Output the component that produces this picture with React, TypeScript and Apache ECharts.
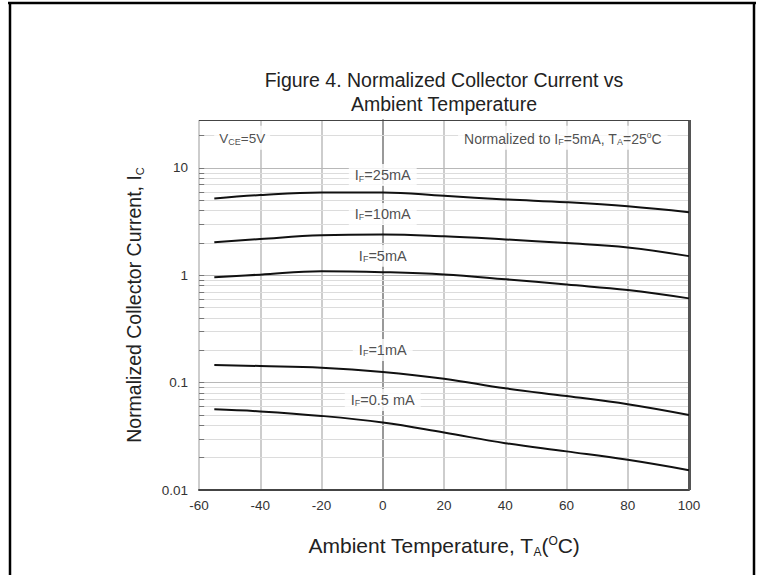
import React, { useEffect, useRef } from 'react';
import * as echarts from 'echarts';

const temps = [-55, -40, -20, 0, 20, 40, 60, 80, 100];
const if25mA = [5.2, 5.6, 5.9, 5.9, 5.5, 5.1, 4.8, 4.4, 3.87];
const if10mA = [2.03, 2.18, 2.36, 2.4, 2.31, 2.16, 2.0, 1.82, 1.51];
const if5mA = [0.96, 1.015, 1.09, 1.07, 1.02, 0.92, 0.82, 0.73, 0.61];
const if1mA = [0.146, 0.143, 0.138, 0.126, 0.109, 0.0886, 0.075, 0.063, 0.05];
const if05mA = [0.0565, 0.054, 0.049, 0.0425, 0.0343, 0.0273, 0.0229, 0.0191, 0.0153];

const curveNames = ['IF=25mA', 'IF=10mA', 'IF=5mA', 'IF=1mA', 'IF=0.5mA'];
const curveValues = [if25mA, if10mA, if5mA, if1mA, if05mA];

const labelTexts = ['I{s|F}=25mA', 'I{s|F}=10mA', 'I{s|F}=5mA', 'I{s|F}=1mA', 'I{s|F}=0.5 mA'];
const labelX = [0, 0, 0, 0, 0];
const labelY = [8.6, 3.73, 1.52, 0.202, 0.069];

const yMin = 0.01;
const yMax = 28;
const decades = [0.01, 0.1, 1, 10];
const minorMultipliers = [2, 3, 4, 5, 6, 7, 8, 9];

const FONT = 'Liberation Sans, Arial, sans-serif';

export default function App() {
  const ref = useRef<HTMLDivElement>(null);
  useEffect(() => {
    if (!ref.current) return;
    const chart = echarts.init(ref.current, null, { renderer: 'svg' });

    const minorVals: number[] = [];
    decades.forEach((d) => {
      minorMultipliers.forEach((m) => {
        const v = +(d * m).toPrecision(6);
        if (v < yMax) minorVals.push(v);
      });
    });

    const gridLines: any[] = [];
    minorVals.forEach((v) =>
      gridLines.push({ yAxis: v, lineStyle: { color: '#dcdcdc', width: 1, type: 'solid' } })
    );
    decades.slice(1).forEach((v) =>
      gridLines.push({ yAxis: v, lineStyle: { color: '#b8b8b8', width: 1.2, type: 'solid' } })
    );
    minorVals.concat(decades.slice(1)).forEach((v) =>
      gridLines.push([
        { coord: [-60, v], lineStyle: { color: '#777', width: 1, type: 'solid' } },
        { coord: [-58.3, v] },
      ])
    );
    gridLines.push([
      { coord: [100, yMin], lineStyle: { color: '#555', width: 3, type: 'solid' } },
      { coord: [100, yMax] },
    ]);
    gridLines.push([
      { coord: [-60, yMax], lineStyle: { color: '#444', width: 1, type: 'solid' } },
      { coord: [100, yMax] },
    ]);

    const annotations: any[] = labelTexts.map((t, i) => ({
      value: [labelX[i], labelY[i]],
      label: { formatter: t },
    }));
    annotations.push({
      value: [-45.9, 19.1],
      label: { formatter: 'V{s|CE}=5V', fontSize: 13.5, padding: [5, 5, 3, 5] },
    });
    annotations.push({
      value: [58.8, 19.1],
      label: {
        formatter: 'Normalized to I{s|F}=5mA, T{s|A}=25{p|o}C',
        fontSize: 14,
        padding: [5, 6, 3, 6],
      },
    });

    const option: any = {
      animation: false,
      backgroundColor: '#fff',
      grid: { left: 199, right: 70, top: 120, bottom: 85, show: false },
      xAxis: {
        type: 'value',
        min: -60,
        max: 100,
        interval: 20,
        axisLine: { show: true, onZero: false, lineStyle: { color: '#444', width: 2 } },
        axisTick: { show: false },
        axisLabel: { color: '#333', fontSize: 13.5, fontFamily: FONT, margin: 8 },
        splitLine: { show: true, lineStyle: { color: '#bdbdbd', width: 1.5 } },
        name: 'Ambient Temperature, T{s|A}({p|O}C)',
        nameLocation: 'middle',
        nameGap: 43,
        nameTextStyle: {
          fontSize: 21,
          fontFamily: FONT,
          color: '#222',
          rich: {
            s: { fontSize: 12, fontFamily: FONT, color: '#222', padding: [13, 0, 0, 0] },
            p: { fontSize: 12, fontFamily: FONT, color: '#222', padding: [0, 0, 10, 0] },
          },
        },
      },
      yAxis: {
        type: 'log',
        logBase: 10,
        min: yMin,
        max: yMax,
        axisLine: { show: true, lineStyle: { color: '#999', width: 2 } },
        axisTick: { show: false },
        axisLabel: {
          color: '#333',
          fontSize: 13.5,
          fontFamily: FONT,
          margin: 11,
          showMaxLabel: false,
          formatter: (v: number) => {
            const l = Math.log10(v);
            if (Math.abs(l - Math.round(l)) < 1e-6 && v < 20) {
              const r = Math.round(l);
              return r >= 0 ? String(Math.pow(10, r)) : Math.pow(10, r).toFixed(-r);
            }
            return '';
          },
        },
        splitLine: { show: false },
        name: 'Normalized Collector Current, I{s|C}',
        nameLocation: 'middle',
        nameRotate: 90,
        nameGap: 54,
        nameTextStyle: {
          fontSize: 19.5,
          fontFamily: FONT,
          color: '#222',
          rich: {
            s: { fontSize: 11, fontFamily: FONT, color: '#222', padding: [12, 0, 0, 0] },
          },
        },
      },
      graphic: [
        {
          type: 'text',
          x: 444,
          y: 80,
          style: {
            text: 'Figure 4. Normalized Collector Current vs',
            font: '19.5px ' + FONT,
            fill: '#222',
            textAlign: 'center',
            textVerticalAlign: 'middle',
          },
        },
        {
          type: 'text',
          x: 444,
          y: 104,
          style: {
            text: 'Ambient Temperature',
            font: '19.5px ' + FONT,
            fill: '#222',
            textAlign: 'center',
            textVerticalAlign: 'middle',
          },
        },
        { type: 'line', shape: { x1: 8, y1: 3, x2: 756, y2: 3 }, style: { stroke: '#000', lineWidth: 2.5 } },
        { type: 'line', shape: { x1: 10, y1: 2, x2: 10, y2: 575 }, style: { stroke: '#000', lineWidth: 2.5 } },
        { type: 'line', shape: { x1: 754, y1: 2, x2: 754, y2: 575 }, style: { stroke: '#000', lineWidth: 2.5 } },
      ],
      series: [
        {
          type: 'line',
          name: 'grid',
          data: [[-60, 1]],
          showSymbol: false,
          silent: true,
          z: 1,
          lineStyle: { opacity: 0 },
          markLine: {
            silent: true,
            z: 1,
            symbol: 'none',
            label: { show: false },
            animation: false,
            data: gridLines,
          },
        },
        ...curveNames.map((n, i) => ({
          type: 'line',
          name: n,
          data: temps.map((t, j) => [t, curveValues[i][j]]),
          smooth: 0.4,
          showSymbol: false,
          z: 3,
          lineStyle: { color: '#111', width: 2 },
        })),
        {
          type: 'scatter',
          name: 'labels',
          data: annotations,
          symbolSize: 0,
          z: 6,
          silent: true,
          label: {
            show: true,
            position: 'inside',
            align: 'center',
            verticalAlign: 'middle',
            color: '#222',
            fontSize: 14.5,
            fontFamily: FONT,
            backgroundColor: '#fff',
            padding: [3, 6],
            rich: {
              s: { fontSize: 9, fontFamily: FONT, color: '#222', padding: [7, 0, 0, 0] },
              p: { fontSize: 8.5, fontFamily: FONT, color: '#222', padding: [0, 0, 7, 0] },
            },
          },
        },
      ],
    };
    chart.setOption(option);
    return () => chart.dispose();
  }, []);
  return <div ref={ref} style={{ width: 759, height: 575, position: 'absolute', left: 0, top: 0 }} />;
}
